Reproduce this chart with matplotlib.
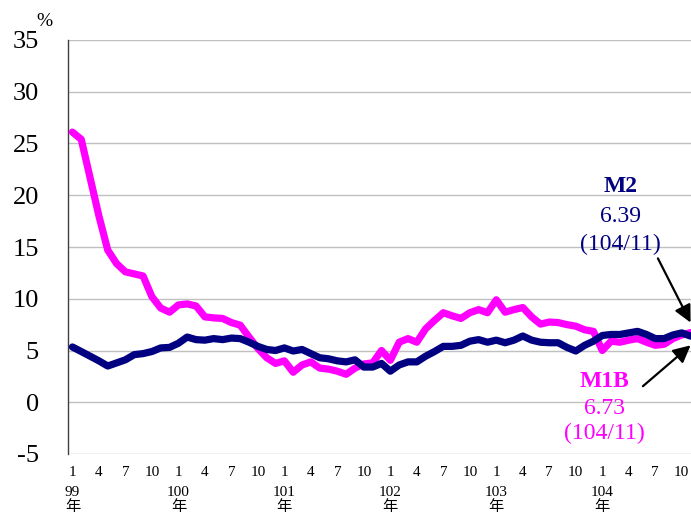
import numpy as np
import matplotlib
matplotlib.use('Agg')
import matplotlib.pyplot as plt
import matplotlib.transforms as mtransforms

# monthly yoy growth, 99/1 .. 104/11
m1b = [26.1, 25.4, 21.7, 18.0, 14.7, 13.4, 12.6, 12.4, 12.2, 10.2, 9.1, 8.7,
       9.4, 9.5, 9.3, 8.25, 8.15, 8.1, 7.7, 7.45, 6.3, 5.2, 4.3, 3.75,
       4.0, 2.9, 3.6, 3.9, 3.3, 3.2, 3.0, 2.7, 3.3, 3.7, 3.8, 5.0,
       4.05, 5.8, 6.15, 5.8, 7.1, 7.9, 8.65, 8.35, 8.1, 8.65, 8.95, 8.65,
       9.9, 8.7, 8.95, 9.15, 8.25, 7.55, 7.75, 7.7, 7.5, 7.35, 7.0, 6.85,
       5.0, 5.9, 5.8, 6.0, 6.15, 5.8, 5.5, 5.6, 6.15, 6.5, 6.73]
m2 = [5.34, 4.9, 4.45, 4.0, 3.5, 3.8, 4.1, 4.6, 4.7, 4.9, 5.25, 5.3,
      5.7, 6.3, 6.05, 6.0, 6.15, 6.05, 6.2, 6.15, 5.8, 5.4, 5.1, 5.0,
      5.25, 4.95, 5.1, 4.7, 4.3, 4.2, 4.0, 3.9, 4.1, 3.4, 3.4, 3.75,
      3.0, 3.6, 3.9, 3.9, 4.45, 4.9, 5.4, 5.4, 5.5, 5.9, 6.05, 5.8,
      6.0, 5.75, 6.0, 6.4, 6.0, 5.8, 5.75, 5.75, 5.3, 4.95, 5.5, 5.9,
      6.45, 6.55, 6.55, 6.7, 6.85, 6.55, 6.15, 6.15, 6.5, 6.7, 6.39]
years = ["99", "100", "101", "102", "103", "104"]
month_labels = ["1", "4", "7", "10"]

serif = ['Liberation Serif', 'DejaVu Serif']
cjk = ['Liberation Serif', 'Noto Sans CJK TC']
plt.rcParams['font.family'] = serif

x = np.arange(len(m1b))

fig = plt.figure(figsize=(6.91, 5.16), dpi=100)
ax = fig.add_axes([68/691, 62/516, 627/691, 414/516])

ax.plot(x, m1b, color='#FF00FF', lw=5.2, solid_joinstyle='round', solid_capstyle='round', zorder=3)
ax.plot(x, m2, color='#000080', lw=5.2, solid_joinstyle='round', solid_capstyle='round', zorder=4)

ax.set_xlim(-0.5, 70.5)
ax.set_ylim(-5, 35)
ax.set_yticks(np.arange(-5, 36, 5))
ax.set_yticklabels([str(v) for v in range(-5, 36, 5)], fontsize=19)
ax.tick_params(axis='y', length=0, pad=21)

ticks = np.arange(0, len(m1b), 3)
ax.set_xticks(ticks)
ax.set_xticklabels([month_labels[(t % 12) // 3] for t in ticks], fontsize=11)
ax.tick_params(axis='x', length=0, pad=9)

ax.grid(axis='y', color='#c0c0c0', lw=1)
ax.set_axisbelow(True)
for s in ['top', 'right', 'bottom']:
    ax.spines[s].set_visible(False)
ax.spines['left'].set_color('#404040')
ax.spines['left'].set_linewidth(1)

# year labels under the January ticks
for k, yr in enumerate(years):
    xf = ax.transData.transform((k * 12, 0))[0] / fig.bbox.width
    fig.text(xf, 1 - 486/516, yr, ha='center', va='top', fontsize=11)
    fig.text(xf, 1 - 514/516, "年", ha='center', va='bottom', fontsize=11, family=cjk)

fig.text(44/691, 1 - 21/516, "%", ha='center', va='center', fontsize=14)

# annotations
ax.text(62.1, 20.8, "M2", color='#000080', fontsize=17, fontweight='bold', ha='center', va='center')
ax.text(62.1, 17.9, "6.39", color='#000080', fontsize=17, ha='center', va='center')
ax.text(62.1, 15.2, "(104/11)", color='#000080', fontsize=17, ha='center', va='center')
ax.annotate("", xy=(70.0, 7.7), xytext=(66.3, 13.9),
            arrowprops=dict(arrowstyle='-|>', color='black', lw=1.6, mutation_scale=26,
                            shrinkA=0, shrinkB=0))

ax.text(60.2, 2.0, "M1B", color='#FF00FF', fontsize=17, fontweight='bold', ha='center', va='center')
ax.text(60.2, -0.6, "6.73", color='#FF00FF', fontsize=17, ha='center', va='center')
ax.text(60.2, -3.0, "(104/11)", color='#FF00FF', fontsize=17, ha='center', va='center')
ax.annotate("", xy=(70.0, 5.5), xytext=(64.6, 1.55),
            arrowprops=dict(arrowstyle='-|>', color='black', lw=1.6, mutation_scale=26,
                            shrinkA=0, shrinkB=0))

fig.savefig("out.png", dpi=100)
